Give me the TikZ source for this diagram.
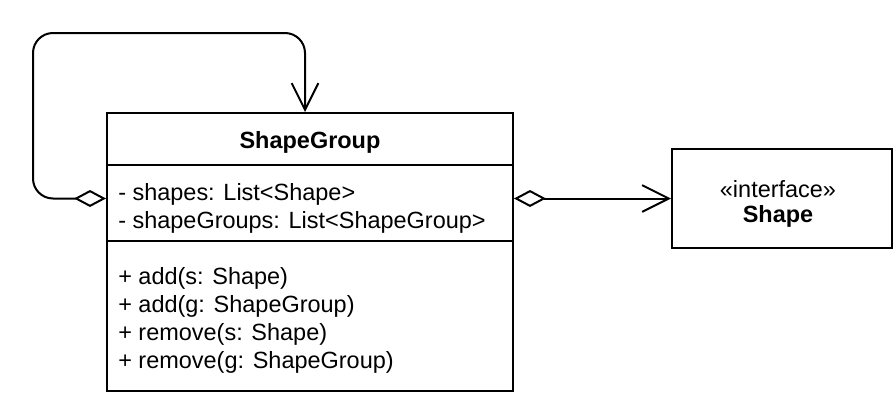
\documentclass[tikz,border=0pt]{standalone}
\usepackage{fontspec}
\setmainfont{Liberation Sans}
\usetikzlibrary{arrows.meta}
\definecolor{ink}{HTML}{000000}

\tikzset{
  classbox/.style={draw=ink,line width=1.5pt,fill=white,inner sep=0pt},
  member/.style={anchor=base west,font=\fontsize{17.6}{21}\selectfont,color=ink,inner sep=0pt},
  classname/.style={anchor=base,font=\fontsize{17.6}{21}\selectfont\bfseries,color=ink,inner sep=0pt},
  agg/.style={draw=ink,line width=1.5pt,
    {Diamond[open,length=24pt,width=12.75pt]}-{Straight Barb[length=20pt,width=20pt]}}
}

\begin{document}
\begin{tikzpicture}[x=0.75pt,y=-0.75pt]
  \useasboundingbox (0,0) rectangle (894,400);
  % ShapeGroup class, 107..513 x 113..391 px
  \node[classbox,minimum width=304.5pt,minimum height=208.5pt] (sg) at (310,252) {};
  \node[classname] (sgname) at (310,148) {ShapeGroup};
  \draw[ink,line width=1.5pt] (sg.west |- 0,165) -- (sg.east |- 0,165);
  \draw[ink,line width=1.5pt] (sg.west |- 0,241) -- (sg.east |- 0,241);
  % attributes
  \node[member] (attr1) at (118,200) {- shapes: List<Shape>};
  \node[member] (attr2) at (118,228) {- shapeGroups: List<ShapeGroup>};
  % operations
  \node[member] (op1) at (118,284) {+ add(s: Shape)};
  \node[member] (op2) at (118,312) {+ add(g: ShapeGroup)};
  \node[member] (op3) at (118,340) {+ remove(s: Shape)};
  \node[member] (op4) at (118,368) {+ remove(g: ShapeGroup)};
  % Shape interface, 672..892 x 149..248 px
  \node[classbox,minimum width=165pt,minimum height=74.25pt] (shape) at (782,198.5) {};
  \node[anchor=base,font=\fontsize{17.6}{21}\selectfont,color=ink,inner sep=0pt] (stereo) at (778,197) {«interface»};
  \node[classname] (shapename) at (778,222) {Shape};
  % aggregation to Shape
  \draw[agg] (sg.east |- shape.west) -- (shape.west);
  % self aggregation loop
  \coordinate (loopcorner) at (33,33);
  \draw[agg,rounded corners=15pt] (sg.west |- shape.west) -| (loopcorner)
    -| ([xshift=-3.75pt]sg.north);
\end{tikzpicture}
\end{document}
